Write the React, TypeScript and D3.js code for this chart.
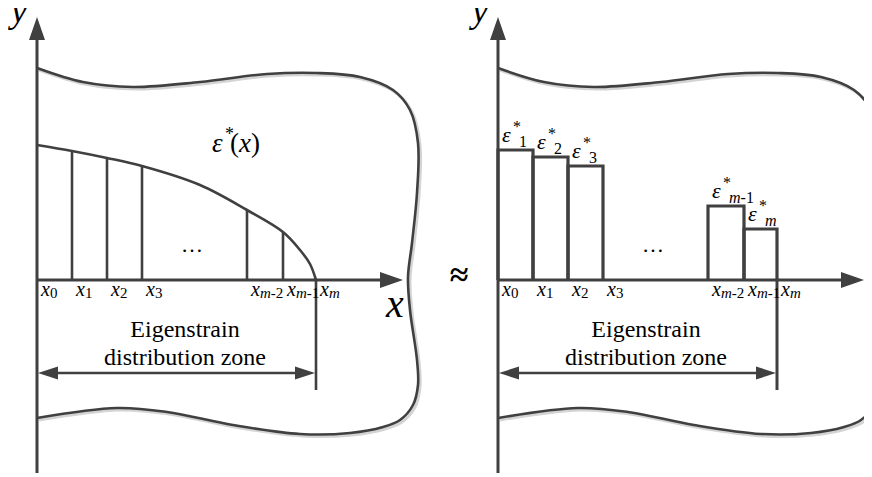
import React from "react";
import * as d3 from "d3";

const W = 872;
const H = 477;

// panel origins (pixel x of the y-axis)
const panelOrigins = [37, 498];

// tick positions along x (distance from origin) and labels
const tickPos = [0, 35, 70, 105, 210, 246, 279];
const tickSubs = ["0", "1", "2", "3", "m-2", "m-1", "m"];

// eigenstrain curve ε*(x) (x, height)
const curveX = [0, 35, 70, 105, 163, 210, 246, 263, 273, 279];
const curveH = [135, 129, 122, 114, 95, 70, 48, 30, 16, 0];

// left panel: vertical lines at tick indices
const stripTicks = [1, 2, 3, 4, 5];

// right panel: piecewise-constant bars (tick index start, end), heights, labels
const barStartTick = [0, 1, 2, 4, 5];
const barEndTick = [1, 2, 3, 5, 6];
const barH = [130, 123, 114, 74, 51];
const barSubs = ["1", "2", "3", "m-1", "m"];

// body outline (x, height relative to axis)
const boundaryX = [0, 46, 96, 163, 230, 280, 323, 356, 373, 381, 380, 375, 371, 373, 380, 381, 376, 363, 346, 313, 263, 196, 130, 80, 0];
const boundaryH = [212, 198, 193, 198, 206, 207, 203, 190, 170, 137, 87, 37, 3, -30, -80, -105, -125, -140, -147, -153, -154, -145, -132, -128, -138];

const LINE = "#404040";
const M = 8; // body margin compensation

function sub(s: string, key: string) {
  if (s.startsWith("m")) {
    return [
      <tspan key={key + "a"} style={{ fontStyle: "italic" }}>m</tspan>,
      <tspan key={key + "b"} style={{ fontStyle: "normal" }}>{s.slice(1)}</tspan>,
    ];
  }
  return [<tspan key={key + "a"} style={{ fontStyle: "normal" }}>{s}</tspan>];
}

function txt(key: string, x: number, y: number, size: number, content: any, opts: { italic?: boolean; bold?: boolean; anchor?: string } = {}) {
  const style: any = { fontFamily: '"Liberation Serif"', fontSize: `${size}px` };
  if (opts.italic) style.fontStyle = "italic";
  if (opts.bold) style.fontWeight = "bold";
  return (
    <text key={key} x={x - M} y={y - M} textAnchor={opts.anchor || "start"} style={style}>
      {content}
    </text>
  );
}

function panelShapes(ox: number, kind: "curve" | "bars") {
  const axisY = 280;
  const x = d3.scaleLinear().domain([0, 279]).range([ox - M, ox - M + 279]);
  const y = d3.scaleLinear().domain([0, 135]).range([axisY - M, axisY - M - 135]);
  const line = d3
    .line<[number, number]>()
    .x((d) => x(d[0]))
    .y((d) => y(d[1]))
    .curve(d3.curveCatmullRom.alpha(0.5));
  const boundary = line(boundaryX.map((v, i) => [v, boundaryH[i]] as [number, number])) || "";
  const curve = line(curveX.map((v, i) => [v, curveH[i]] as [number, number])) || "";
  const x0 = x(0);
  const xEnd = x(279);
  const aY = y(0);
  const arrowY = 373 - M;
  const topY = (v: number) => v - M;

  const els: any[] = [];
  const k = kind;
  els.push(<path key={k + "sh"} d={boundary} fill="none" stroke="#d4d4d4" strokeWidth={3} transform="translate(2,2)" />);
  els.push(<path key={k + "bd"} d={boundary} fill="none" stroke={LINE} strokeWidth={2.6} />);
  els.push(<line key={k + "ya"} x1={x0} x2={x0} y1={topY(473)} y2={topY(38)} stroke={LINE} strokeWidth={3} />);
  els.push(<polygon key={k + "yh"} points={`${x0 - 8},${topY(40)} ${x0},${topY(17)} ${x0 + 8},${topY(40)}`} fill={LINE} />);
  els.push(<line key={k + "xa"} x1={x0} x2={x0 + 345} y1={aY} y2={aY} stroke={LINE} strokeWidth={3} />);
  els.push(<polygon key={k + "xh"} points={`${x0 + 343},${aY - 8} ${x0 + 366},${aY} ${x0 + 343},${aY + 8}`} fill={LINE} />);

  if (kind === "curve") {
    els.push(<path key={k + "cv"} d={curve} fill="none" stroke={LINE} strokeWidth={2.6} />);
    stripTicks.forEach((ti) => {
      const idx = curveX.indexOf(tickPos[ti]);
      els.push(<line key={k + "st" + ti} x1={x(tickPos[ti])} x2={x(tickPos[ti])} y1={aY} y2={y(curveH[idx])} stroke={LINE} strokeWidth={2.6} />);
    });
  } else {
    barH.forEach((h, i) => {
      const xa = x(tickPos[barStartTick[i]]);
      const xb = x(tickPos[barEndTick[i]]);
      els.push(<path key={k + "bar" + i} d={`M${xa},${aY}V${y(h)}H${xb}V${aY}`} fill="none" stroke={LINE} strokeWidth={3.2} />);
    });
  }
  els.push(<line key={k + "vm"} x1={xEnd} x2={xEnd} y1={aY} y2={topY(390)} stroke={LINE} strokeWidth={kind === "curve" ? 2.6 : 3} />);
  els.push(<line key={k + "da"} x1={x0 + 18} x2={xEnd - 18} y1={arrowY} y2={arrowY} stroke={LINE} strokeWidth={2.4} />);
  els.push(<polygon key={k + "dl"} points={`${x0 + 1},${arrowY} ${x0 + 21},${arrowY - 6.5} ${x0 + 21},${arrowY + 6.5}`} fill={LINE} />);
  els.push(<polygon key={k + "dr"} points={`${xEnd - 1},${arrowY} ${xEnd - 21},${arrowY - 6.5} ${xEnd - 21},${arrowY + 6.5}`} fill={LINE} />);
  return els;
}

function panelTexts(ox: number, kind: "curve" | "bars") {
  const x = d3.scaleLinear().domain([0, 279]).range([ox, ox + 279]);
  const y = d3.scaleLinear().domain([0, 135]).range([280, 145]);
  const x0 = x(0);
  const k = kind;
  const els: any[] = [];
  els.push(txt(k + "ylab", x0 - 26, 22, 36, "y", { italic: true }));
  if (kind === "curve") {
    els.push(txt(k + "xlab", x0 + 349, 317, 40, "x", { italic: true }));
    els.push(txt(k + "eps", 212, 152, 27, "ε", { italic: true }));
    els.push(txt(k + "star", 225, 140, 18, "*"));
    els.push(txt(k + "px", 230, 152, 27, ["(", <tspan key="xi" style={{ fontStyle: "italic" }}>x</tspan>, ")"]));
  } else {
    barH.forEach((h, i) => {
      const xa = x(tickPos[barStartTick[i]]);
      const top = y(h);
      els.push(txt(k + "be" + i, xa + 4, top - 8, 22, "ε", { italic: true }));
      els.push(txt(k + "bs" + i, xa + 15, top - 18, 16, "*"));
      els.push(txt(k + "bl" + i, xa + 21, top - 3, 16, sub(barSubs[i], "bl" + i)));
    });
  }
  tickPos.forEach((t, i) => {
    els.push(
      txt(k + "tk" + i, x(t) + 4, 296, 20, [
        "x",
        <tspan key="s" style={{ fontSize: "15px" }} dy={2}>{sub(tickSubs[i], "t" + i)}</tspan>,
      ], { italic: true })
    );
  });
  els.push(txt(k + "dots", x0 + 155, 252, 22, "…", { anchor: "middle" }));
  els.push(txt(k + "z1", x0 + 148, 337, 24, "Eigenstrain", { anchor: "middle" }));
  els.push(txt(k + "z2", x0 + 148, 365, 24, "distribution zone", { anchor: "middle" }));
  return els;
}

export default function App() {
  return (
    <svg width={W - 2 * M} height={H - 2 * M} overflow="visible">
      {panelShapes(panelOrigins[0], "curve")}
      {panelShapes(panelOrigins[1], "bars")}
      {panelTexts(panelOrigins[0], "curve")}
      {panelTexts(panelOrigins[1], "bars")}
      {txt("approx", 459, 286, 34, "≈", { bold: true, anchor: "middle" })}
    </svg>
  );
}
